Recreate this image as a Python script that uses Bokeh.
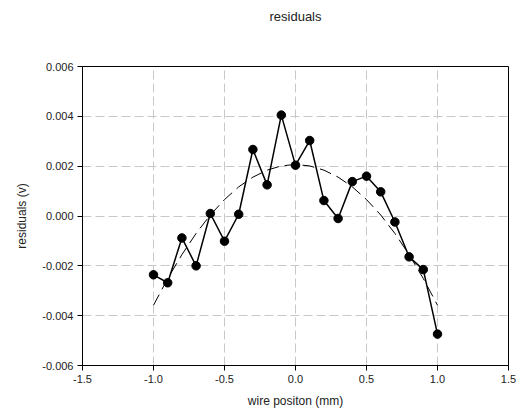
from bokeh.plotting import figure
from bokeh.models import NumeralTickFormatter, FixedTicker, Range1d, Title
from bokeh.embed import file_html
from bokeh.resources import INLINE

# data points
pos = [-1.0, -0.9, -0.8, -0.7, -0.6, -0.5, -0.4, -0.3, -0.2, -0.1, 0.0,
       0.1, 0.2, 0.3, 0.4, 0.5, 0.6, 0.7, 0.8, 0.9, 1.0]
resid = [-0.00236, -0.00268, -0.00088, -0.00200, 0.00010, -0.00101, 0.00007,
         0.00267, 0.00125, 0.00405, 0.00204, 0.00303, 0.00062, -0.00010,
         0.00138, 0.00160, 0.00097, -0.00024, -0.00164, -0.00215, -0.00474]
# fitted curve (dashed), values read at the same positions
fit = [-0.00358, -0.00251, -0.00155, -0.00070, 0.00004, 0.00066, 0.00117,
       0.00156, 0.00184, 0.00201, 0.00207, 0.00201, 0.00184, 0.00156,
       0.00117, 0.00066, 0.00004, -0.00070, -0.00155, -0.00251, -0.00358]

xticks = [-1.5, -1.0, -0.5, 0.0, 0.5, 1.0, 1.5]
yticks = [-0.006, -0.004, -0.002, 0.0, 0.002, 0.004, 0.006]
title_text = "residuals"

FONT = "Liberation Sans"

p = figure(width=520, height=416, output_backend="svg", toolbar_location=None,
           x_range=Range1d(-1.5, 1.5), y_range=Range1d(-0.006, 0.006),
           min_border_left=82, min_border_right=12, min_border_top=66,
           min_border_bottom=51, title=None)

# spacer title (closest to the frame), then the visible title above it
p.add_layout(Title(text=" ", text_font_size="13px", standoff=21), "above")
p.add_layout(Title(text=title_text, align="center", text_font=FONT,
                   text_font_size="13px", text_font_style="normal",
                   text_color="#222222"), "above")

p.outline_line_color = "black"
p.outline_line_width = 1
p.background_fill_color = "white"
p.border_fill_color = "white"

for g in (p.xgrid, p.ygrid):
    g.grid_line_color = "#c8c8c8"
    g.grid_line_dash = "9 4"
    g.grid_line_width = 1

p.xaxis.ticker = FixedTicker(ticks=xticks)
p.yaxis.ticker = FixedTicker(ticks=yticks)
p.xaxis.formatter = NumeralTickFormatter(format="0.0")
p.yaxis.formatter = NumeralTickFormatter(format="0.000")

for ax in (p.xaxis, p.yaxis):
    ax.axis_line_color = "black"
    ax.major_tick_line_color = "black"
    ax.major_tick_out = 5
    ax.major_tick_in = 0
    ax.minor_tick_line_color = None
    ax.major_label_text_font = FONT
    ax.major_label_text_font_size = "11px"
    ax.major_label_text_color = "#222222"
    ax.axis_label_text_font = FONT
    ax.axis_label_text_font_size = "12px"
    ax.axis_label_text_font_style = "normal"
    ax.axis_label_text_color = "#222222"
    ax.major_label_standoff = 4

p.xaxis.axis_label = "wire positon (mm)"
p.yaxis.axis_label = "residuals (v)"
p.xaxis.axis_label_standoff = 8
p.yaxis.axis_label_standoff = 10

p.line(pos, fit, line_color="black", line_dash="12 6", line_width=1)
p.line(pos, resid, line_color="black", line_width=1.5)
p.scatter(pos, resid, size=8.5, fill_color="black", line_color="black")

open("out.html", "w").write(file_html(p, INLINE))
